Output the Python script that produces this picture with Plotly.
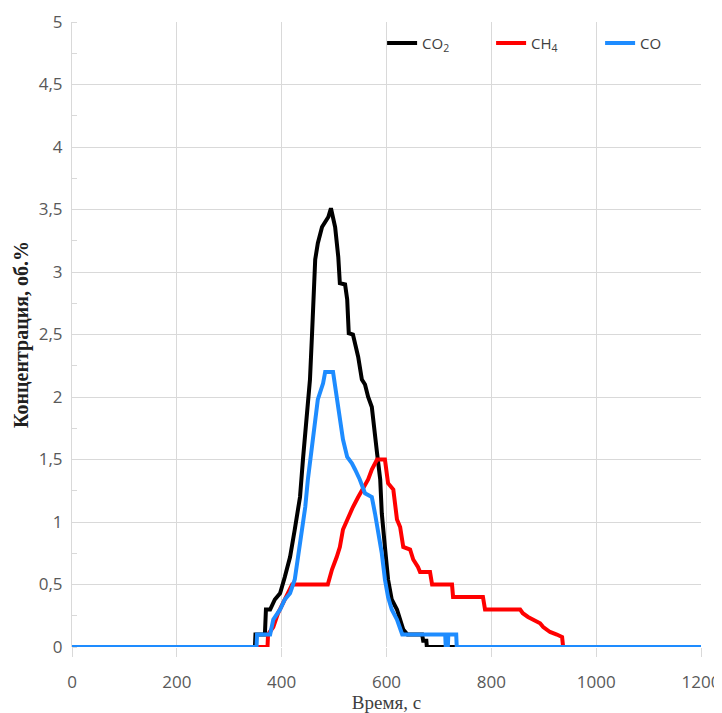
import plotly.graph_objects as go

# Time, s
co2_x = [0, 349, 350, 368, 370, 378, 387, 397, 406, 416, 425, 435, 441, 448, 454, 458, 462, 464, 469, 477,
         483, 489, 494, 502, 508, 511, 521, 525, 528, 536, 546, 553, 559, 565, 572, 576, 582, 588, 591, 597,
         603, 610, 620, 626, 632, 640, 668, 670, 676, 677, 1200]
co2_y = [0, 0, 0.1, 0.1, 0.3, 0.3, 0.38, 0.43, 0.56, 0.72, 0.94, 1.2, 1.52, 1.87, 2.14, 2.51, 2.86, 3.1, 3.23, 3.36,
         3.4, 3.44, 3.51, 3.36, 3.12, 2.91, 2.9, 2.78, 2.51, 2.5, 2.32, 2.14, 2.1, 2.0, 1.92, 1.74, 1.55, 1.34, 1.07, 0.8,
         0.54, 0.38, 0.3, 0.22, 0.14, 0.1, 0.1, 0.05, 0.05, 0, 0]

ch4_x = [0, 373, 374, 384, 393, 403, 412, 420, 488, 496, 505, 511, 517, 525, 530, 536, 546, 555, 565, 572,
         582, 597, 603, 613, 620, 626, 632, 645, 651, 660, 664, 683, 687, 725, 727, 784, 788, 855, 860, 870,
         880, 893, 899, 912, 925, 935, 937, 1200]
ch4_y = [0, 0, 0.1, 0.16, 0.27, 0.35, 0.43, 0.5, 0.5, 0.62, 0.72, 0.8, 0.94, 1.02, 1.07, 1.12, 1.2, 1.26, 1.34, 1.42,
         1.5, 1.5, 1.31, 1.26, 1.02, 0.96, 0.8, 0.78, 0.7, 0.64, 0.6, 0.6, 0.5, 0.5, 0.4, 0.4, 0.3, 0.3, 0.27, 0.24,
         0.22, 0.19, 0.16, 0.12, 0.1, 0.08, 0, 0]

co_x = [0, 352, 353, 378, 384, 397, 406, 416, 425, 431, 439, 445, 450, 458, 464, 469, 479, 483, 498, 505,
        511, 517, 525, 534, 540, 549, 559, 572, 578, 584, 591, 597, 603, 610, 620, 630, 712, 713, 717, 718,
        733, 734, 1200]
co_y = [0, 0, 0.1, 0.1, 0.22, 0.3, 0.38, 0.43, 0.54, 0.7, 0.91, 1.12, 1.34, 1.6, 1.84, 1.98, 2.11, 2.2, 2.2, 1.98,
        1.79, 1.66, 1.52, 1.47, 1.42, 1.34, 1.23, 1.2, 1.07, 0.94, 0.75, 0.54, 0.4, 0.3, 0.22, 0.1, 0.1, 0, 0, 0.1,
        0.1, 0, 0]

series_names = ["CO<sub>2</sub>", "CH<sub>4</sub>", "CO"]
x_ticks = [0, 200, 400, 600, 800, 1000, 1200]
y_ticks = [0, 0.5, 1, 1.5, 2, 2.5, 3, 3.5, 4, 4.5, 5]
y_ticktext = ["0", "0,5", "1", "1,5", "2", "2,5", "3", "3,5", "4", "4,5", "5"]

grid = "#d9d9d9"
tickfont = dict(family="Open Sans, Liberation Sans, sans-serif", size=17, color="#595959")

fig = go.Figure()
for name, xs, ys, col in [(series_names[0], co2_x, co2_y, "#000000"),
                          (series_names[1], ch4_x, ch4_y, "#ff0000"),
                          (series_names[2], co_x, co_y, "#1e8cff")]:
    fig.add_trace(go.Scatter(x=xs, y=ys, mode="lines", name=name,
                             line=dict(color=col, width=4)))

# page body has an 8px margin, so the figure is sized to fill the remaining window
fig.update_layout(
    width=714, height=705,
    margin=dict(l=64, r=21, t=14, b=66, autoexpand=False),
    paper_bgcolor="white", plot_bgcolor="white",
    showlegend=True,
    legend=dict(orientation="h", x=0.493, xanchor="left", y=0.966, yanchor="middle",
                bgcolor="rgba(0,0,0,0)", entrywidth=64, tracegroupgap=0,
                font=dict(family="Open Sans, Liberation Sans, sans-serif", size=15, color="#404040")),
    xaxis=dict(range=[0, 1200], tickvals=x_ticks, showgrid=True, gridcolor=grid, gridwidth=1,
               zeroline=False, showline=False, ticks="outside", ticklen=9, tickcolor=grid,
               tickfont=tickfont, automargin=False, ticklabelstandoff=11,
               title=dict(text="Время, с", font=dict(family="Liberation Serif, serif", size=19, color="#404040"),
                          standoff=6)),
    yaxis=dict(range=[0, 5], tickvals=y_ticks, ticktext=y_ticktext, showgrid=True, gridcolor=grid, gridwidth=1,
               zeroline=False, showline=True, linecolor=grid, ticks="", tickfont=tickfont,
               automargin=False, ticklabelstandoff=5,
               minor=dict(ticks="inside", dtick=0.25, ticklen=5, tickcolor=grid, showgrid=False),
               title=dict(text="<b>Концентрация, об.%</b>",
                          font=dict(family="Liberation Serif, serif", size=20, color="#202020"),
                          standoff=4)),
)

fig.write_html("out.html")
